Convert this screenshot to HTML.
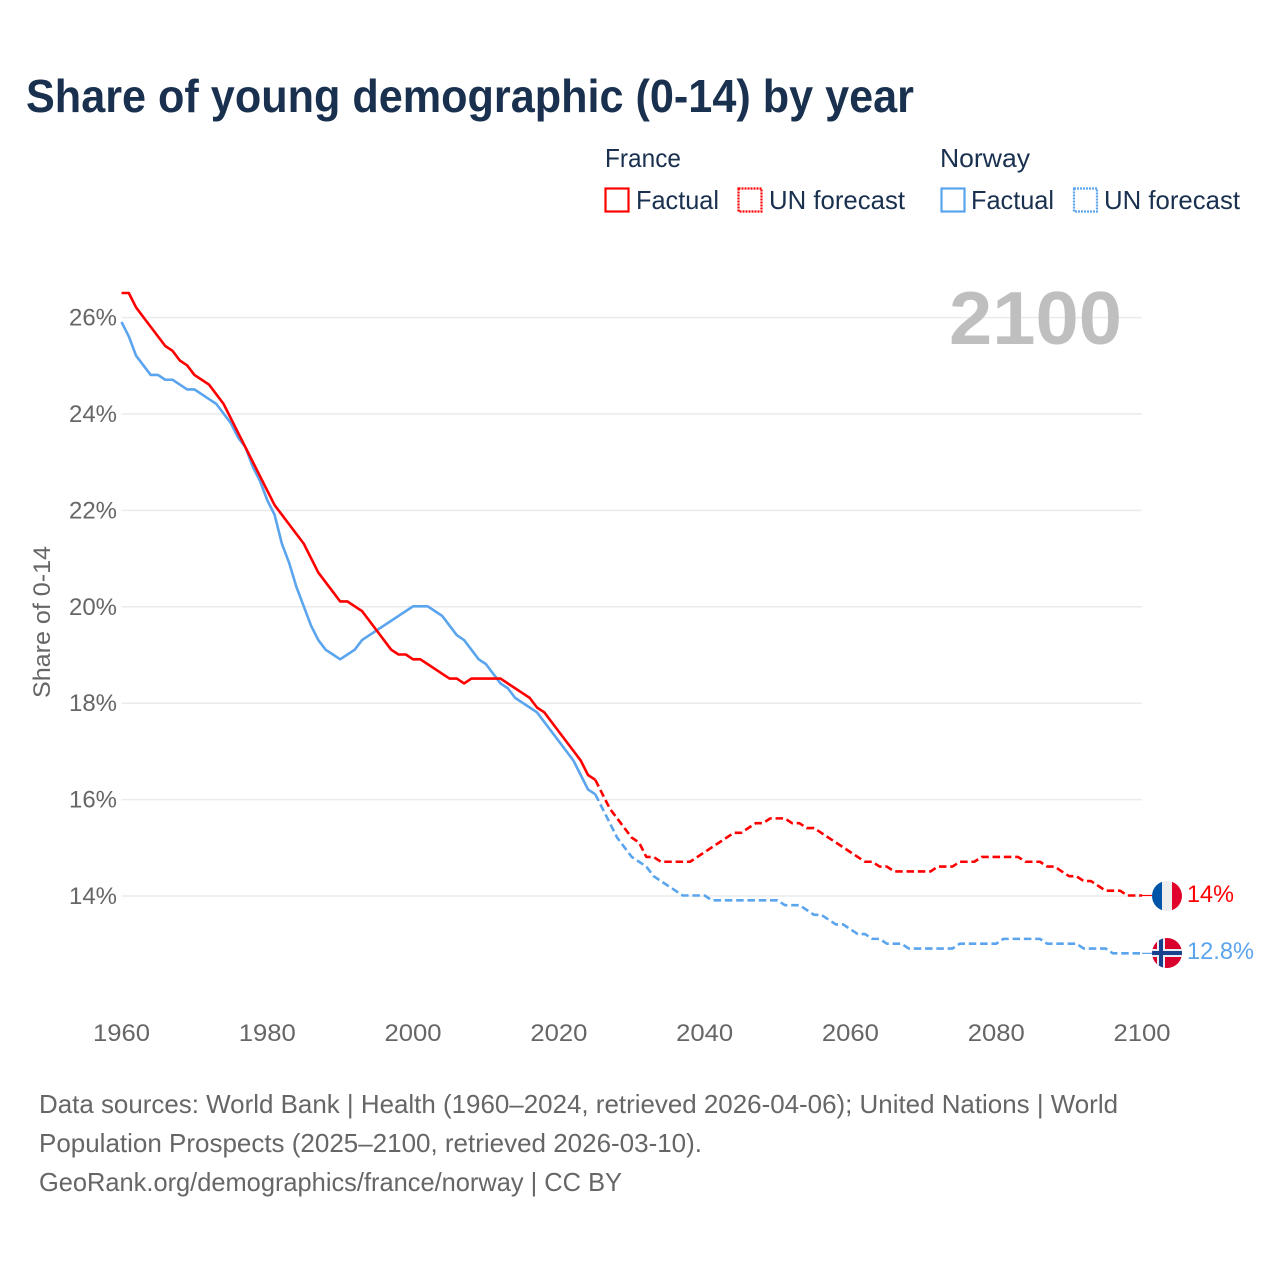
<!DOCTYPE html>
<html lang="en">
<head>
<meta charset="utf-8">
<title>Share of young demographic (0-14) by year</title>
<style>
html,body{margin:0;padding:0;background:#fff;width:1280px;height:1280px;overflow:hidden}
svg{display:block;font-family:"Liberation Sans",sans-serif}
</style>
</head>
<body>
<svg id="chart" width="1280" height="1280" viewBox="0 0 1280 1280" xmlns="http://www.w3.org/2000/svg">
  <rect width="1280" height="1280" fill="#fff"/>
  <text x="26" y="112" font-size="46" font-weight="700" fill="#19304f" textLength="888" lengthAdjust="spacingAndGlyphs">Share of young demographic (0-14) by year</text>

  <g font-size="26" fill="#19304f">
    <text x="605" y="167" textLength="76" lengthAdjust="spacingAndGlyphs">France</text>
    <text x="940" y="167" textLength="90" lengthAdjust="spacingAndGlyphs">Norway</text>
    <rect x="605.5" y="188.5" width="23" height="23" fill="none" stroke="#ff0000" stroke-width="2.2"/>
    <text x="636" y="209" textLength="83" lengthAdjust="spacingAndGlyphs">Factual</text>
    <rect x="738.5" y="188.5" width="23" height="23" fill="none" stroke="#ff0000" stroke-width="2.2" stroke-dasharray="2 1"/>
    <text x="769" y="209" textLength="136" lengthAdjust="spacingAndGlyphs">UN forecast</text>
    <rect x="941.5" y="188.5" width="23" height="23" fill="none" stroke="#5ba4ee" stroke-width="2.2"/>
    <text x="971" y="209" textLength="83" lengthAdjust="spacingAndGlyphs">Factual</text>
    <rect x="1074" y="188.5" width="23" height="23" fill="none" stroke="#5ba4ee" stroke-width="2.2" stroke-dasharray="2 1"/>
    <text x="1104" y="209" textLength="136" lengthAdjust="spacingAndGlyphs">UN forecast</text>
  </g>

  <g id="grid"></g>
  <g id="yticks"></g>
  <g id="xticks"></g>
  <text transform="translate(50,622) rotate(-90)" text-anchor="middle" font-size="24" fill="#666" textLength="152" lengthAdjust="spacingAndGlyphs">Share of 0-14</text>
  <text x="949" y="344" font-size="75" font-weight="700" fill="#bfbfbf" textLength="173" lengthAdjust="spacingAndGlyphs">2100</text>

  <g id="series" transform="translate(0,-0.5)"></g>

  <defs>
    <clipPath id="clip-fr"><circle cx="1167" cy="896" r="15"/></clipPath>
    <clipPath id="clip-no"><circle cx="1167" cy="953" r="15"/></clipPath>
  </defs>
  <g clip-path="url(#clip-fr)">
    <rect x="1152" y="881" width="10" height="30" fill="#0055a8"/>
    <rect x="1162" y="881" width="10" height="30" fill="#eeeeee"/>
    <rect x="1172" y="881" width="10" height="30" fill="#e0002b"/>
  </g>
  <g clip-path="url(#clip-no)">
    <rect x="1152" y="938" width="30" height="30" fill="#d9002e"/>
    <rect x="1157" y="938" width="8" height="30" fill="#e8eef5"/>
    <rect x="1152" y="949" width="30" height="8" fill="#e8eef5"/>
    <rect x="1159" y="938" width="4" height="30" fill="#17408f"/>
    <rect x="1152" y="951" width="30" height="4" fill="#17408f"/>
  </g>
  <text x="1187" y="902" font-size="24" fill="#ff0000" textLength="47" lengthAdjust="spacingAndGlyphs">14%</text>
  <text x="1187" y="959" font-size="24" fill="#5ba4ee" textLength="67" lengthAdjust="spacingAndGlyphs">12.8%</text>

  <g font-size="26" fill="#666">
    <text x="39" y="1113" textLength="1079" lengthAdjust="spacingAndGlyphs">Data sources: World Bank | Health (1960–2024, retrieved 2026-04-06); United Nations | World</text>
    <text x="39" y="1152" textLength="663" lengthAdjust="spacingAndGlyphs">Population Prospects (2025–2100, retrieved 2026-03-10).</text>
    <text x="39" y="1191" textLength="583" lengthAdjust="spacingAndGlyphs">GeoRank.org/demographics/france/norway | CC BY</text>
  </g>
</svg>
<script>
const yTickValues = [14, 16, 18, 20, 22, 24, 26];
const xTickYears = [1960, 1980, 2000, 2020, 2040, 2060, 2080, 2100];
const factualStartYear = 1960;
const forecastStartYear = 2025;
const franceFactual = [
  26.5,26.5,26.2,26.0,25.8,25.6,25.4,25.3,25.1,25.0,
  24.8,24.7,24.6,24.4,24.2,23.9,23.6,23.3,23.0,22.7,
  22.4,22.1,21.9,21.7,21.5,21.3,21.0,20.7,20.5,20.3,
  20.1,20.1,20.0,19.9,19.7,19.5,19.3,19.1,19.0,19.0,
  18.9,18.9,18.8,18.7,18.6,18.5,18.5,18.4,18.5,18.5,
  18.5,18.5,18.5,18.4,18.3,18.2,18.1,17.9,17.8,17.6,
  17.4,17.2,17.0,16.8,16.5,16.4
];
const norwayFactual = [
  25.9,25.6,25.2,25.0,24.8,24.8,24.7,24.7,24.6,24.5,
  24.5,24.4,24.3,24.2,24.0,23.8,23.5,23.3,22.9,22.6,
  22.2,21.9,21.3,20.9,20.4,20.0,19.6,19.3,19.1,19.0,
  18.9,19.0,19.1,19.3,19.4,19.5,19.6,19.7,19.8,19.9,
  20.0,20.0,20.0,19.9,19.8,19.6,19.4,19.3,19.1,18.9,
  18.8,18.6,18.4,18.3,18.1,18.0,17.9,17.8,17.6,17.4,
  17.2,17.0,16.8,16.5,16.2,16.1
];
const franceForecast = [
  16.4,16.1,15.8,15.6,15.4,
  15.2,15.1,14.8,14.8,14.7,14.7,14.7,14.7,14.7,14.8,
  14.9,15.0,15.1,15.2,15.3,15.3,15.4,15.5,15.5,15.6,
  15.6,15.6,15.5,15.5,15.4,15.4,15.3,15.2,15.1,15.0,
  14.9,14.8,14.7,14.7,14.6,14.6,14.5,14.5,14.5,14.5,
  14.5,14.5,14.6,14.6,14.6,14.7,14.7,14.7,14.8,14.8,
  14.8,14.8,14.8,14.8,14.7,14.7,14.7,14.6,14.6,14.5,
  14.4,14.4,14.3,14.3,14.2,14.1,14.1,14.1,14.0,14.0,14.0
];
const norwayForecast = [
  16.1,15.8,15.5,15.2,15.0,
  14.8,14.7,14.6,14.4,14.3,14.2,14.1,14.0,14.0,14.0,
  14.0,13.9,13.9,13.9,13.9,13.9,13.9,13.9,13.9,13.9,
  13.9,13.8,13.8,13.8,13.7,13.6,13.6,13.5,13.4,13.4,
  13.3,13.2,13.2,13.1,13.1,13.0,13.0,13.0,12.9,12.9,
  12.9,12.9,12.9,12.9,12.9,13.0,13.0,13.0,13.0,13.0,
  13.0,13.1,13.1,13.1,13.1,13.1,13.1,13.0,13.0,13.0,
  13.0,13.0,12.9,12.9,12.9,12.9,12.8,12.8,12.8,12.8,12.8
];

const NS = 'http://www.w3.org/2000/svg';
const X0 = 121.5, Y0 = 896, PX_PER_YEAR = 1020.5 / 140, PX_PER_PCT = 48.2;
function xScale(year) { return X0 + (year - 1960) * PX_PER_YEAR; }
function yScale(pct) { return Y0 - (pct - 14) * PX_PER_PCT; }
function make(tag, parent) {
  const el = document.createElementNS(NS, tag);
  parent.appendChild(el);
  return el;
}
function linePath(values, startYear) {
  return values.map(function (v, i) {
    return (i ? 'L' : 'M') + xScale(startYear + i).toFixed(2) + ' ' + yScale(v).toFixed(2);
  }).join(' ');
}

const gridG = document.getElementById('grid');
const yG = document.getElementById('yticks');
const xG = document.getElementById('xticks');
const seriesG = document.getElementById('series');

yTickValues.forEach(function (v) {
  const line = make('line', gridG);
  
  
  line.setAttribute('x1', xScale(1960));
  line.setAttribute('x2', xScale(2100));
  line.setAttribute('y1', yScale(v));
  line.setAttribute('y2', yScale(v));
  line.setAttribute('stroke', '#ebebeb');
  line.setAttribute('stroke-width', '1.5');

  const t = make('text', yG);
  
  
  t.setAttribute('x', 69);
  t.setAttribute('y', yScale(v) + 8);
  t.setAttribute('font-size', '24');
  t.setAttribute('fill', '#666');
  t.setAttribute('textLength', '48');
  t.setAttribute('lengthAdjust', 'spacingAndGlyphs');
  t.textContent = v + '%';
});

xTickYears.forEach(function (yr) {
  const t = make('text', xG);
  
  
  t.setAttribute('x', xScale(yr) - 28.5);
  t.setAttribute('y', 1041);
  t.setAttribute('font-size', '24');
  t.setAttribute('fill', '#666');
  t.setAttribute('textLength', '57');
  t.setAttribute('lengthAdjust', 'spacingAndGlyphs');
  t.textContent = yr;
});

function connector(name, value, color) {
  const c = make('line', seriesG);
  
  
  c.setAttribute('x1', xScale(2100));
  c.setAttribute('x2', xScale(2100) + 10);
  c.setAttribute('y1', yScale(value));
  c.setAttribute('y2', yScale(value));
  c.setAttribute('stroke', color);
  c.setAttribute('stroke-width', '1.2');
}
function series(name, values, startYear, color, dashed) {
  const p = make('path', seriesG);
  
  
  p.setAttribute('d', linePath(values, startYear));
  p.setAttribute('fill', 'none');
  p.setAttribute('stroke', color);
  p.setAttribute('stroke-width', '2.6');
  p.setAttribute('stroke-linejoin', 'round');
  if (dashed) p.setAttribute('stroke-dasharray', '7.5 3.8');
}
series('norway-factual-line', norwayFactual, factualStartYear, '#5ba4ee', false);
series('norway-forecast-line', norwayForecast, forecastStartYear, '#5ba4ee', true);
series('france-factual-line', franceFactual, factualStartYear, '#ff0000', false);
series('france-forecast-line', franceForecast, forecastStartYear, '#ff0000', true);
connector('france-flag-connector', franceForecast[franceForecast.length - 1], '#ff0000');
connector('norway-flag-connector', norwayForecast[norwayForecast.length - 1], '#5ba4ee');
</script>
</body>
</html>
